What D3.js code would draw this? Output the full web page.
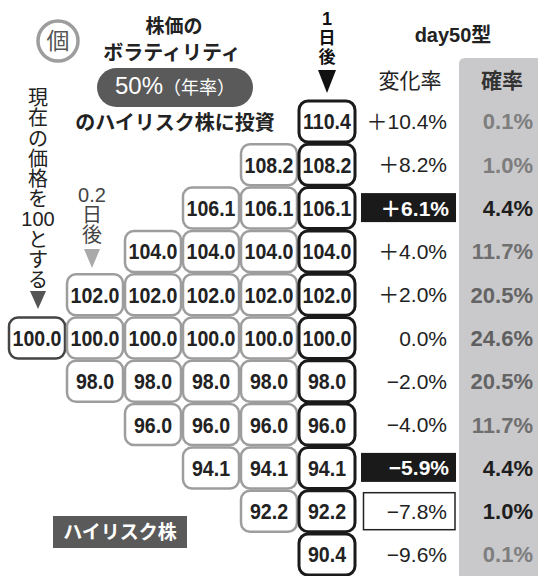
<!DOCTYPE html>
<html>
<head>
<meta charset="utf-8">
<script src="https://cdn.jsdelivr.net/npm/d3@7"></script>
<style>
  body { margin: 0; background: #fff; }
  svg { display: block; }
  text { font-family: "Liberation Sans", "Noto Sans CJK JP", sans-serif; }
</style>
</head>
<body>
<div id="chart"></div>
<script>
// Data
const steps = [0, 1, 2, 3, 4, 5];
const levels = [5, 4, 3, 2, 1, 0, -1, -2, -3, -4, -5];
const prices = [110.4, 108.2, 106.1, 104.0, 102.0, 100.0, 98.0, 96.0, 94.1, 92.2, 90.4];
const changes = ["＋10.4%", "＋8.2%", "＋6.1%", "＋4.0%", "＋2.0%", "0.0%", "−2.0%", "−4.0%", "−5.9%", "−7.8%", "−9.6%"];
const probs = [0.1, 1.0, 4.4, 11.7, 20.5, 24.6, 20.5, 11.7, 4.4, 1.0, 0.1];
// 1 = black box, 2 = outlined box
const marks = [0, 0, 1, 0, 0, 0, 0, 0, 1, 2, 0];
const leftLabel = ["現", "在", "の", "価", "格", "を", "100", "と", "す", "る"];

const width = 538, height = 576;
const svg = d3.select("#chart").append("svg")
  .attr("width", width)
  .attr("height", height);

const x = d3.scaleLinear().domain([0, 5]).range([37, 327]);
const y = d3.scaleLinear().domain([5, -5]).range([121.5, 554.5]);
const cellW = 56, cellH = 41;

const rows = levels.map((k, i) => ({
  k: k, price: prices[i], change: changes[i], prob: probs[i], mark: marks[i]
}));

// grey probability panel
svg.append("path")
  .attr("d", "M459,576 V64 Q459,58 465,58 H538 V576 Z")
  .attr("fill", "#c9c9cb");

// tree cells
const cells = [];
steps.forEach(j => {
  rows.forEach(r => {
    if (Math.abs(r.k) <= j) cells.push({ j: j, k: r.k, price: r.price });
  });
});
cells.sort((a, b) => (a.j === 5) - (b.j === 5));

const cellG = svg.append("g").selectAll("g")
  .data(cells)
  .enter()
  .append("g")
  .attr("transform", d => `translate(${x(d.j)},${y(d.k)})`);

cellG.append("rect")
  .attr("x", -cellW / 2)
  .attr("y", -cellH / 2)
  .attr("width", cellW)
  .attr("height", cellH)
  .attr("rx", 9)
  .attr("fill", "#fff")
  .attr("stroke", d => d.j === 5 ? "#1a1a1a" : d.j === 0 ? "#444" : "#9d9d9d")
  .attr("stroke-width", d => d.j === 5 ? 3 : 2.5);

cellG.append("text")
  .attr("text-anchor", "middle")
  .attr("dy", "0.36em")
  .attr("transform", "scale(0.89,1)")
  .style("font-size", "22px")
  .style("font-weight", "bold")
  .attr("fill", "#222")
  .text(d => d.price.toFixed(1));

// change rate column
const changeX = 447;
svg.selectAll("rect.hl")
  .data(rows.filter(r => r.mark > 0))
  .enter()
  .append("rect")
  .attr("class", "hl")
  .attr("x", d => d.mark === 1 ? 361 : 363.5)
  .attr("y", d => y(d.k) - (d.mark === 1 ? 15 : 18.5))
  .attr("width", d => d.mark === 1 ? 95 : 91.5)
  .attr("height", d => d.mark === 1 ? 29 : 37)
  .attr("fill", d => d.mark === 1 ? "#1a1a1a" : "#fff")
  .attr("stroke", d => d.mark === 2 ? "#222" : "none")
  .attr("stroke-width", 1.5);

svg.selectAll("text.chg")
  .data(rows)
  .enter()
  .append("text")
  .attr("class", "chg")
  .attr("x", d => d.mark === 1 ? changeX + 2 : changeX)
  .attr("y", d => y(d.k))
  .attr("dy", "0.36em")
  .attr("text-anchor", "end")
  .style("font-size", "21px")
  .style("font-weight", d => d.mark === 1 ? "bold" : "normal")
  .attr("fill", d => d.mark === 1 ? "#fff" : "#222")
  .text(d => d.change);

// probability column
const probColor = d3.scaleLinear().domain([0, 25]).range(["#7e7e7e", "#5e5e5e"]);
svg.selectAll("text.prob")
  .data(rows)
  .enter()
  .append("text")
  .attr("class", "prob")
  .attr("x", 533)
  .attr("y", d => y(d.k))
  .attr("dy", "0.36em")
  .attr("text-anchor", "end")
  .style("font-size", "22px")
  .style("font-weight", "bold")
  .attr("fill", d => d.mark > 0 ? "#1e1e1e" : probColor(d.prob))
  .text(d => d.prob.toFixed(1) + "%");

// headers
svg.append("text").attr("x", 410).attr("y", 80).attr("dy", "0.36em")
  .attr("text-anchor", "middle").style("font-size", "21px").attr("fill", "#222")
  .text("変化率");
svg.append("text").attr("x", 502).attr("y", 80).attr("dy", "0.36em")
  .attr("text-anchor", "middle").style("font-size", "21px").style("font-weight", "bold")
  .attr("fill", "#333").text("確率");
svg.append("text").attr("x", 453).attr("y", 35).attr("dy", "0.36em")
  .attr("text-anchor", "middle").style("font-size", "20px").style("font-weight", "bold")
  .attr("fill", "#222").text("day50型");

// 1日後 label
const topLbl = svg.append("g").attr("fill", "#111").style("font-weight", "bold")
  .attr("text-anchor", "middle");
[["1", 19, 18], ["日", 38, 17], ["後", 57, 17]].forEach(([t, yy, fs]) => {
  topLbl.append("text").attr("x", x(5)).attr("y", yy).attr("dy", "0.36em")
    .style("font-size", fs + "px").text(t);
});
svg.append("path")
  .attr("d", `M${x(5) - 9},70 L${x(5) + 9},70 L${x(5)},93 Z`)
  .attr("fill", "#111");

// 0.2日後 label
const smallLbl = svg.append("g").attr("fill", "#444").attr("text-anchor", "middle");
[["0.2", 195], ["日", 215], ["後", 235]].forEach(([t, yy]) => {
  smallLbl.append("text").attr("x", x(1) - 3).attr("y", yy).attr("dy", "0.36em")
    .style("font-size", "20px").text(t);
});
svg.append("path")
  .attr("d", `M${x(1) - 11},249 L${x(1) + 5},249 L${x(1) - 3},268 Z`)
  .attr("fill", "#aaa");

// left vertical label
const leftG = svg.append("g").attr("fill", "#222").attr("text-anchor", "middle");
leftLabel.forEach((t, i) => {
  leftG.append("text").attr("x", 38).attr("y", 98 + i * 20.2).attr("dy", "0.36em")
    .style("font-size", "20px").text(t);
});
svg.append("path")
  .attr("d", "M30,291 L46,291 L38,309 Z")
  .attr("fill", "#555");

// top-left title
svg.append("circle").attr("cx", 58).attr("cy", 41).attr("r", 20)
  .attr("fill", "#fff").attr("stroke", "#9d9d9d").attr("stroke-width", 3.5);
svg.append("text").attr("x", 58).attr("y", 41).attr("dy", "0.36em")
  .attr("text-anchor", "middle").style("font-size", "23px").attr("fill", "#555")
  .text("個");

svg.append("text").attr("x", 174).attr("y", 26).attr("dy", "0.36em")
  .attr("text-anchor", "middle").style("font-size", "19px").style("font-weight", "bold")
  .attr("fill", "#222").text("株価の");
svg.append("text").attr("x", 172).attr("y", 53).attr("dy", "0.36em")
  .attr("text-anchor", "middle").style("font-size", "20px").style("font-weight", "bold")
  .attr("fill", "#222").text("ボラティリティ");

svg.append("rect").attr("x", 97).attr("y", 68).attr("width", 156).attr("height", 39)
  .attr("rx", 19.5).attr("fill", "#5a5a5a");
const pill = svg.append("text").attr("x", 175).attr("y", 88).attr("dy", "0.36em")
  .attr("text-anchor", "middle").attr("fill", "#fff");
pill.append("tspan").style("font-size", "24px").text("50%");
pill.append("tspan").style("font-size", "18px").text("（年率）");

svg.append("text").attr("x", 175).attr("y", 123).attr("dy", "0.36em")
  .attr("text-anchor", "middle").style("font-size", "20px").style("font-weight", "bold")
  .attr("fill", "#222").text("のハイリスク株に投資");

// bottom-left tag
svg.append("rect").attr("x", 53).attr("y", 516).attr("width", 134).attr("height", 32)
  .attr("fill", "#5a5a5a");
svg.append("text").attr("x", 120).attr("y", 532).attr("dy", "0.36em")
  .attr("text-anchor", "middle").style("font-size", "19px").style("font-weight", "bold")
  .attr("fill", "#fff").text("ハイリスク株");
</script>
</body>
</html>
